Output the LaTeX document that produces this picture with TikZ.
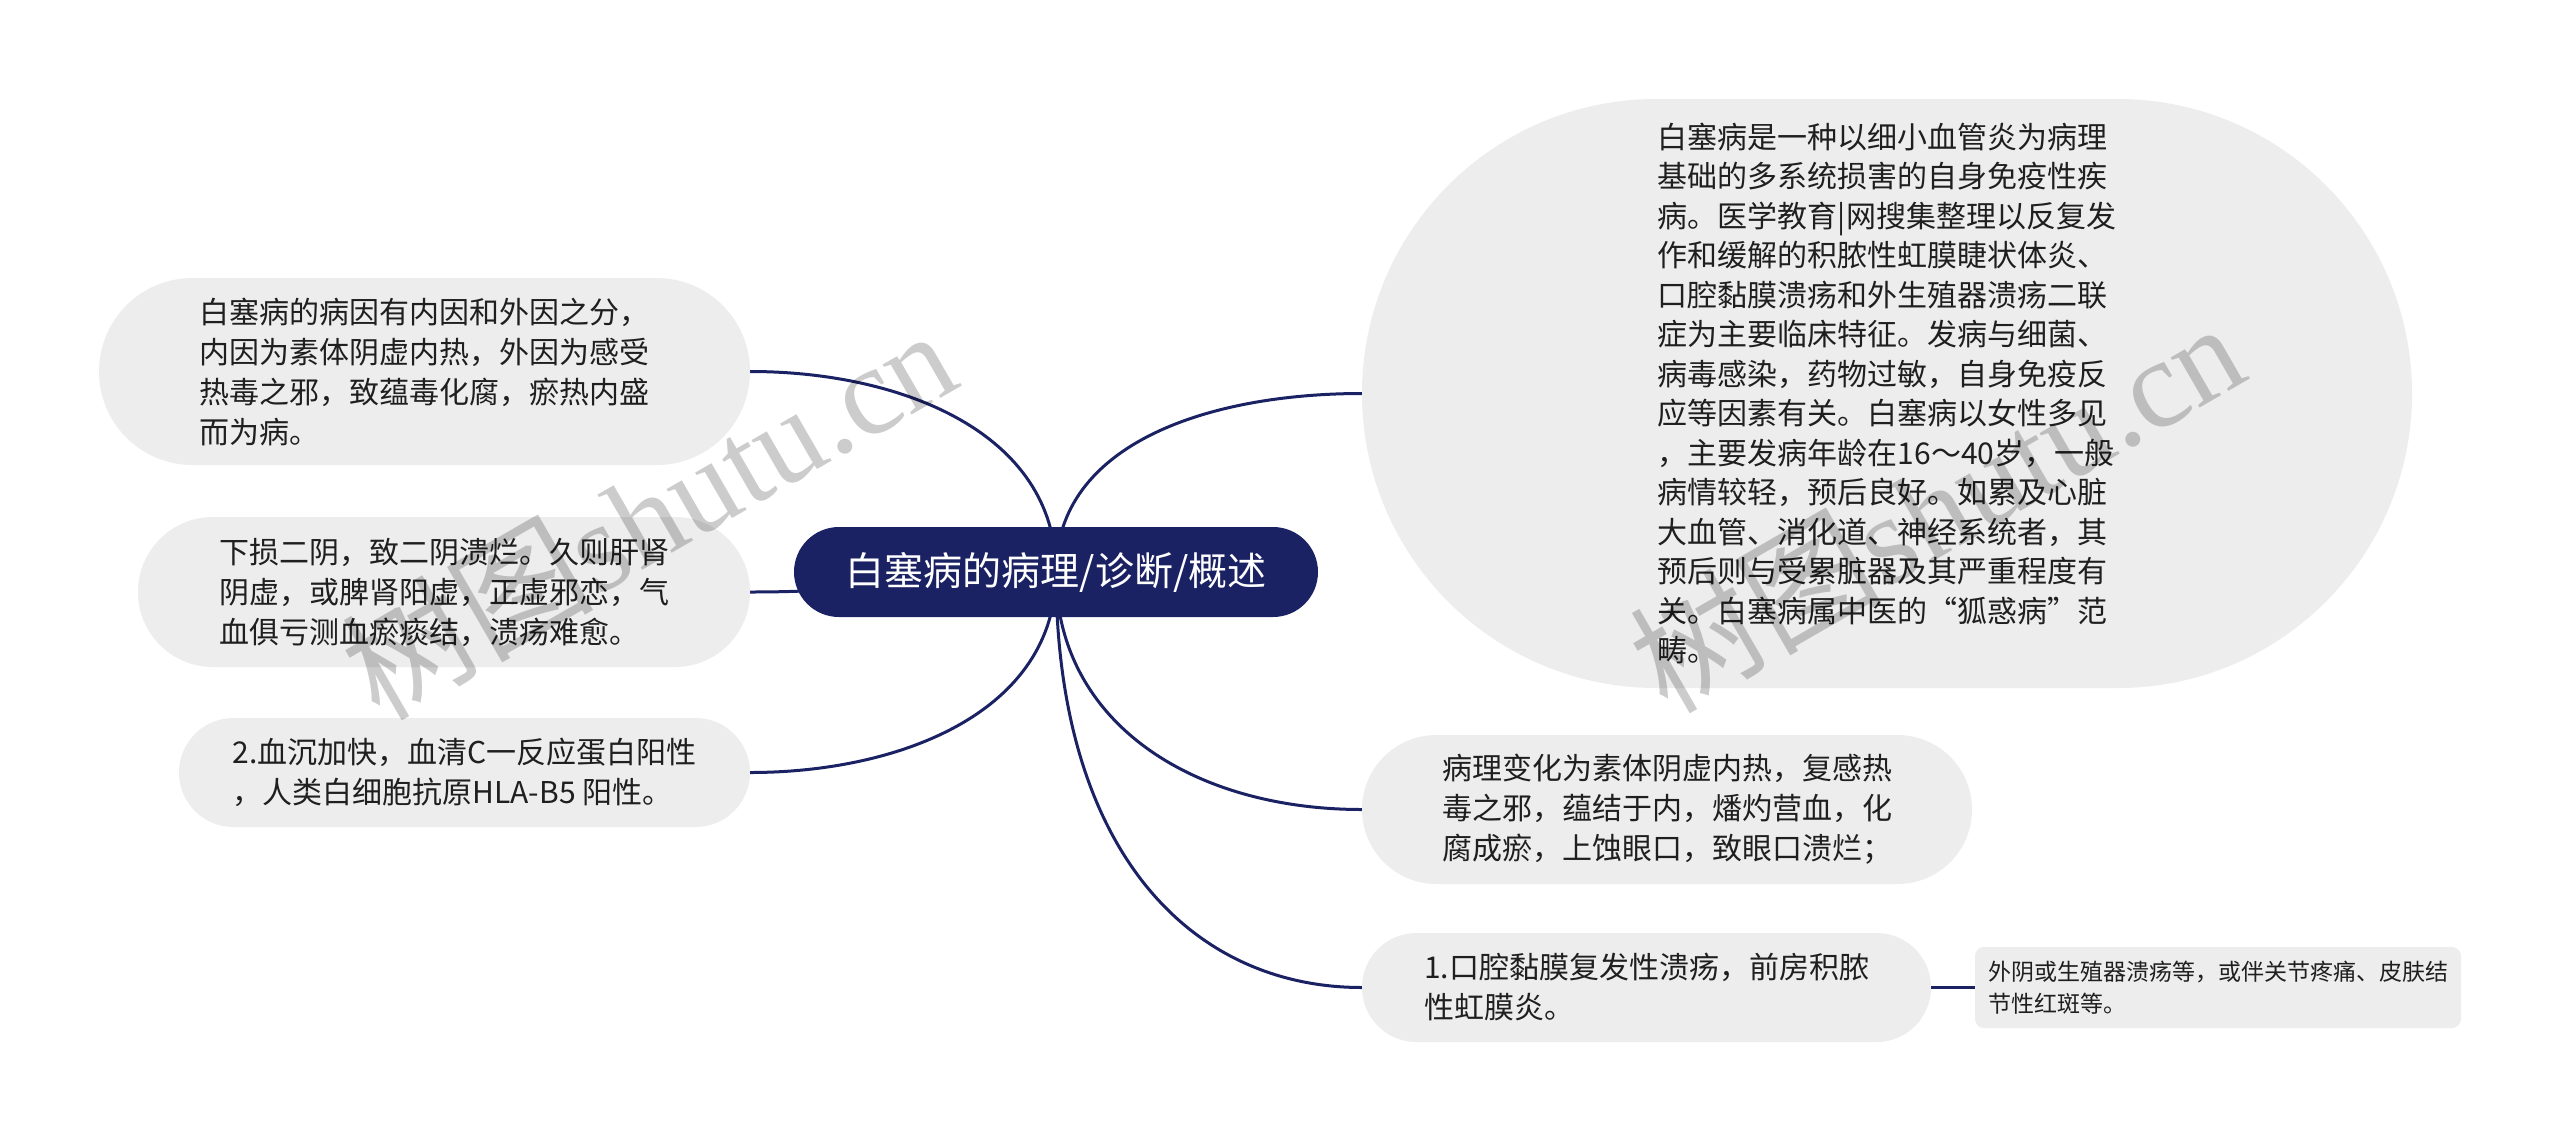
\documentclass[tikz,border=0pt]{standalone}
\usepackage{fontspec}
\setmainfont{Noto Sans CJK SC}
\newfontfamily\wmserif{Liberation Serif}
\pgfdeclarelayer{bg}
\pgfdeclarelayer{fg}
\pgfsetlayers{bg,main,fg}
\definecolor{navy}{RGB}{27,34,99}
\definecolor{boxgray}{RGB}{237,237,237}
\tikzset{
  graybox/.style={rectangle, fill=boxgray, draw=none, inner sep=0pt, align=left,
    text=black!88, font=\fontsize{30}{40}\selectfont},
  rootbox/.style={rectangle, fill=navy, draw=none, inner sep=0pt, text=white,
    font=\fontsize{39}{39}\selectfont},
  smallbox/.style={rectangle, fill=boxgray, draw=none, inner sep=0pt, align=left,
    rounded corners=9pt, text=black!88, font=\fontsize{23}{32}\selectfont},
  conn/.style={draw=navy, line width=3pt},
  wm/.style={text=black, opacity=0.2, font=\fontsize{126}{126}\selectfont, inner sep=0pt}
}
\begin{document}
\begin{tikzpicture}[x=1pt,y=-1pt]
\useasboundingbox (0,0) rectangle (2560,1141);
\begin{pgfonlayer}{bg}
\fill[white] (0,0) rectangle (2560,1141);
\end{pgfonlayer}

\node[rootbox, minimum width=524pt, minimum height=90pt, rounded corners=45pt] (c) at (1056,572) {白塞病的病理/诊断/概述};

\node[graybox, minimum width=651pt, minimum height=187pt, rounded corners=93.5pt] (l1) at (424.5,371.5)
  {白塞病的病因有内因和外因之分，\\内因为素体阴虚内热，外因为感受\\热毒之邪，致蕴毒化腐，瘀热内盛\\而为病。};
\node[graybox, minimum width=612pt, minimum height=150pt, rounded corners=75pt] (l2) at (444,592)
  {下损二阴，致二阴溃烂。久则肝肾\\阴虚，或脾肾阳虚，正虚邪恋，气\\血俱亏测血瘀痰结，溃疡难愈。};
\node[graybox, minimum width=571pt, minimum height=109pt, rounded corners=54.5pt] (l3) at (464.5,772.5)
  {2.血沉加快，血清C一反应蛋白阳性\\，人类白细胞抗原HLA-B5 阳性。};

\node[graybox, minimum width=1050pt, minimum height=589pt, rounded corners=294.5pt,
  font=\fontsize{30}{39.5}\selectfont] (r1) at (1887,393.5)
  {白塞病是一种以细小血管炎为病理\\基础的多系统损害的自身免疫性疾\\病。医学教育|网搜集整理以反复发\\作和缓解的积脓性虹膜睫状体炎、\\口腔黏膜溃疡和外生殖器溃疡二联\\症为主要临床特征。发病与细菌、\\病毒感染，药物过敏，自身免疫反\\应等因素有关。白塞病以女性多见\\，主要发病年龄在16～40岁，一般\\病情较轻，预后良好。如累及心脏\\大血管、消化道、神经系统者，其\\预后则与受累脏器及其严重程度有\\关。白塞病属中医的“狐惑病”范\\畴。};
\node[graybox, minimum width=610pt, minimum height=149pt, rounded corners=74.5pt] (r2) at (1667,809.5)
  {病理变化为素体阴虚内热，复感热\\毒之邪，蕴结于内，燔灼营血，化\\腐成瘀，上蚀眼口，致眼口溃烂；};
\node[graybox, minimum width=569pt, minimum height=109pt, rounded corners=54.5pt] (r3) at (1646.5,987.5)
  {1.口腔黏膜复发性溃疡，前房积脓\\性虹膜炎。};
\node[smallbox, minimum width=486pt, minimum height=81pt] (ch) at (2218,987.5)
  {外阴或生殖器溃疡等，或伴关节疼痛、皮肤结\\节性红斑等。};

\begin{pgfonlayer}{bg}
\draw[conn] (c.center) .. controls +(0,-140) and +(150,0) .. (l1.east);
\draw[conn] (c.center) .. controls +(-150,0) and +(150,0) .. (l2.east);
\draw[conn] (c.center) .. controls +(0,140) and +(150,0) .. (l3.east);
\draw[conn] (c.center) .. controls +(0,-130) and +(-150,0) .. (r1.west);
\draw[conn] (c.center) .. controls +(0,150) and +(-170,0) .. (r2.west);
\draw[conn] (c.center) .. controls +(0,280) and +(-170,0) .. (r3.west);
\draw[conn] (r3.east) -- (ch.west);
\end{pgfonlayer}

\begin{pgfonlayer}{fg}
\node[wm, rotate=30] (wm1) at (648,512) {树图{\wmserif shutu.cn}};
\node[wm, rotate=30] (wm2) at (1936,505) {树图{\wmserif shutu.cn}};
\end{pgfonlayer}
\end{tikzpicture}
\end{document}
